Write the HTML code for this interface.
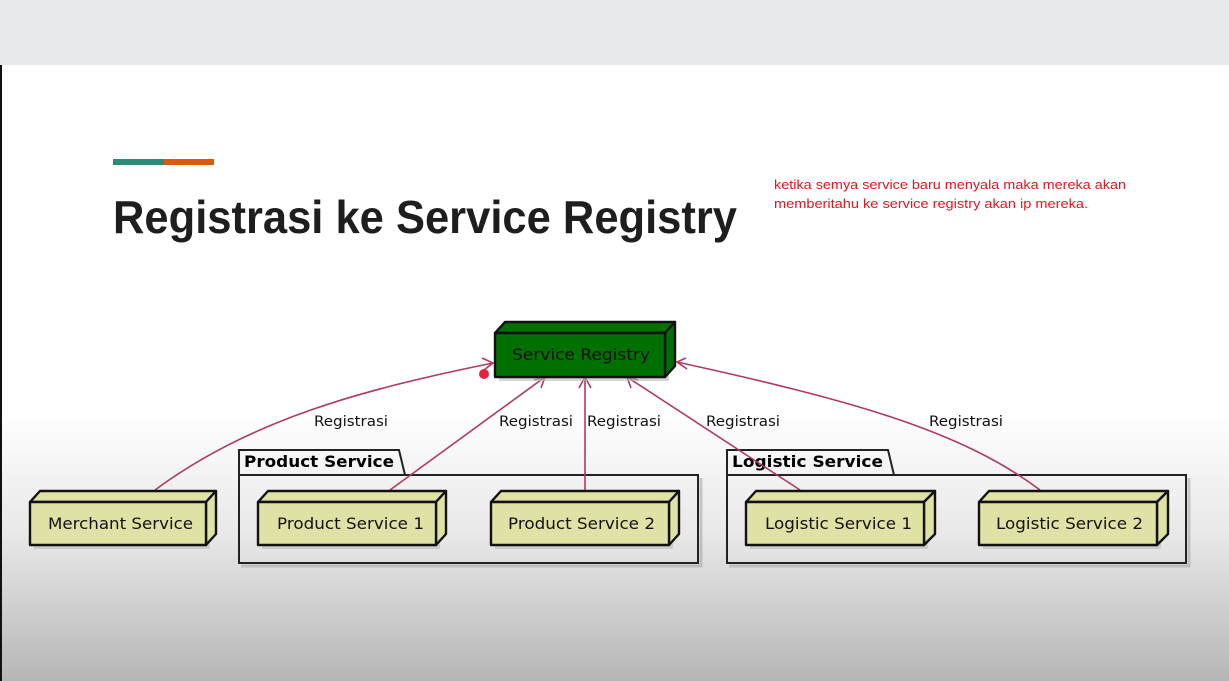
<!DOCTYPE html>
<html><head><meta charset="utf-8"><style>
html,body{margin:0;padding:0;}
body{width:1229px;height:681px;overflow:hidden;position:relative;font-family:"Liberation Sans","DejaVu Sans",sans-serif;background:#fff;}
</style></head><body>
<svg width="1229" height="681" viewBox="0 0 1229 681" xmlns="http://www.w3.org/2000/svg" style="position:absolute;left:0;top:0">
<defs>
<linearGradient id="bg" x1="0" y1="0" x2="0" y2="1">
<stop offset="0" stop-color="#fff"/><stop offset="0.6" stop-color="#fff"/><stop offset="0.78" stop-color="#e9e9e9"/><stop offset="1" stop-color="#b6b6b6"/>
</linearGradient>
</defs>
<rect x="0" y="0" width="1229" height="681" fill="url(#bg)"/>
<rect x="0" y="0" width="1229" height="65" fill="#e8e9ec"/>
<rect x="0" y="65" width="2" height="616" fill="#111"/>
<rect x="113" y="159" width="51" height="6" fill="#2a8c78"/>
<rect x="164" y="159" width="50" height="6" fill="#dc5a0a"/>
<text x="113" y="233" font-size="46" font-weight="bold" fill="#1e1e1e" textLength="624" lengthAdjust="spacingAndGlyphs">Registrasi ke Service Registry</text>
<text x="774" y="189" font-size="13" fill="#e8141e" textLength="352" lengthAdjust="spacingAndGlyphs">ketika semya service baru menyala maka mereka akan</text>
<text x="774" y="208" font-size="13" fill="#e8141e" textLength="314" lengthAdjust="spacingAndGlyphs">memberitahu ke service registry akan ip mereka.</text>

<!-- packages -->
<g stroke="#aaa" stroke-width="3" fill="none" opacity="0.6">
<path d="M241 566 L701 566 L701 478"/>
<path d="M729 566 L1189 566 L1189 478"/>
</g>
<g stroke="#222" stroke-width="2" fill="none">
<path d="M239 475 L239 450 L399 450 L405 475"/>
<rect x="239" y="475" width="459" height="88"/>
<path d="M727 475 L727 450 L888 450 L894 475"/>
<rect x="727" y="475" width="459" height="88"/>
</g>
<text x="244" y="467" font-size="16" font-weight="bold" fill="#000" font-family="DejaVu Sans" textLength="150" lengthAdjust="spacingAndGlyphs">Product Service</text>
<text x="732" y="467" font-size="16" font-weight="bold" fill="#000" font-family="DejaVu Sans" textLength="151" lengthAdjust="spacingAndGlyphs">Logistic Service</text>

<!-- connectors -->
<g stroke="#b03a60" stroke-width="1.6" fill="none">
<path d="M155 490 C 250 420, 360 390, 493 363"/>
<path d="M390 490 L545 377"/>
<path d="M585 490 L585 377"/>
<path d="M800 490 L627 377"/>
<path d="M1040 490 C 960 430, 850 400, 677 362"/>
<path d="M482 358 L493 363 L484 370"/>
<path d="M534 380 L545 377 L541 388"/>
<path d="M579 388 L585 377 L591 388"/>
<path d="M631 388 L627 377 L638 380"/>
<path d="M686 358 L677 362 L687 369"/>
</g>
<circle cx="484" cy="374" r="5" fill="#e8223e"/>
<g font-size="14" fill="#111" font-family="DejaVu Sans">
<text x="314" y="426" textLength="74" lengthAdjust="spacingAndGlyphs">Registrasi</text>
<text x="499" y="426" textLength="74" lengthAdjust="spacingAndGlyphs">Registrasi</text>
<text x="587" y="426" textLength="74" lengthAdjust="spacingAndGlyphs">Registrasi</text>
<text x="706" y="426" textLength="74" lengthAdjust="spacingAndGlyphs">Registrasi</text>
<text x="929" y="426" textLength="74" lengthAdjust="spacingAndGlyphs">Registrasi</text>
</g>

<!-- shadows -->
<g fill="#bbb" opacity="0.6">
<rect x="499" y="337" width="170" height="44"/>
<rect x="34" y="506" width="176" height="43"/>
<rect x="262" y="506" width="178" height="43"/>
<rect x="495" y="506" width="178" height="43"/>
<rect x="750" y="506" width="178" height="43"/>
<rect x="983" y="506" width="178" height="43"/>
</g>
<!-- nodes -->
<g stroke="#111" stroke-width="2.4" stroke-linejoin="round">
<g fill="#007000">
<path d="M495 333 L505 322 L675 322 L665 333 Z"/>
<path d="M665 333 L675 322 L675 366 L665 377 Z"/>
<rect x="495" y="333" width="170" height="44"/>
</g>
<g fill="#dfe2a4">
<path d="M30 502 L40 491 L216 491 L206 502 Z"/><path d="M206 502 L216 491 L216 534 L206 545 Z"/><rect x="30" y="502" width="176" height="43"/>
<path d="M258 502 L268 491 L446 491 L436 502 Z"/><path d="M436 502 L446 491 L446 534 L436 545 Z"/><rect x="258" y="502" width="178" height="43"/>
<path d="M491 502 L501 491 L679 491 L669 502 Z"/><path d="M669 502 L679 491 L679 534 L669 545 Z"/><rect x="491" y="502" width="178" height="43"/>
<path d="M746 502 L756 491 L935 491 L924 502 Z"/><path d="M924 502 L935 491 L935 534 L924 545 Z"/><rect x="746" y="502" width="178" height="43"/>
<path d="M979 502 L989 491 L1168 491 L1157 502 Z"/><path d="M1157 502 L1168 491 L1168 534 L1157 545 Z"/><rect x="979" y="502" width="178" height="43"/>
</g>
</g>
<g font-size="16" fill="#111" font-family="DejaVu Sans" lengthAdjust="spacingAndGlyphs">
<text x="512" y="360" textLength="138" lengthAdjust="spacingAndGlyphs">Service Registry</text>
<text x="48" y="529" textLength="145" lengthAdjust="spacingAndGlyphs">Merchant Service</text>
<text x="277" y="529" textLength="147" lengthAdjust="spacingAndGlyphs">Product Service 1</text>
<text x="508" y="529" textLength="147" lengthAdjust="spacingAndGlyphs">Product Service 2</text>
<text x="765" y="529" textLength="147" lengthAdjust="spacingAndGlyphs">Logistic Service 1</text>
<text x="996" y="529" textLength="147" lengthAdjust="spacingAndGlyphs">Logistic Service 2</text>
</g>
</svg>
</body></html>
